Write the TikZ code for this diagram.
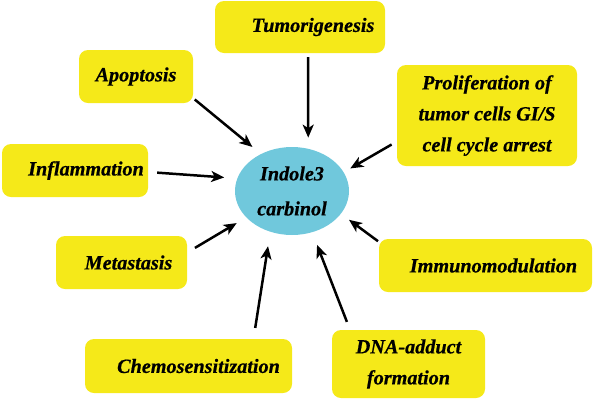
\documentclass[tikz,border=0pt]{standalone}
\usepackage{fontspec}
\setmainfont{Liberation Serif}[BoldItalicFeatures={FakeBold=0.6}]
\usetikzlibrary{shapes.geometric, arrows.meta, calc, positioning}
\definecolor{boxyellow}{RGB}{245,233,25}
\definecolor{indoleblue}{RGB}{112,200,220}

\begin{document}
\begin{tikzpicture}[x=1pt, y=-1pt]
    \tikzset{
        > = {Stealth[length=13pt, width=11pt, inset=3.5pt]},
        block/.style = {rectangle, rounded corners=9pt, fill=boxyellow, inner sep=0pt,
                        align=center, font=\fontsize{20.2}{31}\selectfont\bfseries\itshape},
        pad/.style = {execute at begin node={\hspace*{#1}}},
        hub/.style = {ellipse, fill=indoleblue, inner sep=0pt, align=center,
                      minimum width=114pt, minimum height=88pt,
                      font=\fontsize{20.2}{35}\selectfont\bfseries\itshape},
        line/.style = {->, line width=2.5pt}
    }
    \useasboundingbox (0,0) rectangle (593,400);

    % 中心节点
    \node [hub] (indole) at (292,191) {Indole3\\carbinol};

    % 上方与左侧
    \node [block, pad=26pt, minimum width=170pt, minimum height=52pt] (tumor) at (300,27) {Tumorigenesis};
    \node [block, minimum width=114pt, minimum height=53pt] (apop) at (136,76.5) {Apoptosis};
    \node [block, pad=22pt, minimum width=146pt, minimum height=53pt] (inflam) at (75,170.5) {Inflammation};
    \node [block, pad=14pt, minimum width=131pt, minimum height=53pt] (meta) at (121.5,262.5) {Metastasis};

    % 右侧与下方
    \node [block, minimum width=180pt, minimum height=101pt] (prolif) at (487,115.5) {Proliferation of\\tumor cells GI/S\\cell cycle arrest};
    \node [block, pad=16pt, minimum width=213pt, minimum height=53pt] (immuno) at (485.5,265.5) {Immunomodulation};
    \node [block, pad=20pt, minimum width=207pt, minimum height=54pt] (chemo) at (188.5,366) {Chemosensitization};
    \node [block, minimum width=153pt, minimum height=68pt] (dna) at (408.5,364) {DNA-adduct\\formation};

    % 箭头
    \draw [line, shorten <=4pt, shorten >=11pt] ([xshift=8pt]tumor.south) -- (indole.69);
    \draw [line, shorten <=2pt, shorten >=11pt] ([yshift=5pt]apop.south east) -- (indole.130);
    \draw [line, shorten <=6pt, shorten >=7.5pt] ([yshift=-26pt]prolif.west) -- (indole.20);
    \draw [line, shorten <=9pt, shorten >=13pt] ([yshift=-1.5pt]inflam.east) -- (indole.167);
    \draw [line, shorten <=9pt, shorten >=11pt] ([yshift=10pt]meta.east) -- (indole.210);
    \draw [line, shorten <=11pt, shorten >=14.5pt] ([xshift=65pt]chemo.north) -- (indole.242);
    \draw [line, shorten <=8.5pt, shorten >=13.5pt] ([xshift=-58.5pt]dna.north) -- (indole.296);
    \draw [line, shorten <=1pt, shorten >=10pt] ([yshift=-3pt]immuno.north west) -- (indole.335);

\end{tikzpicture}
\end{document}
